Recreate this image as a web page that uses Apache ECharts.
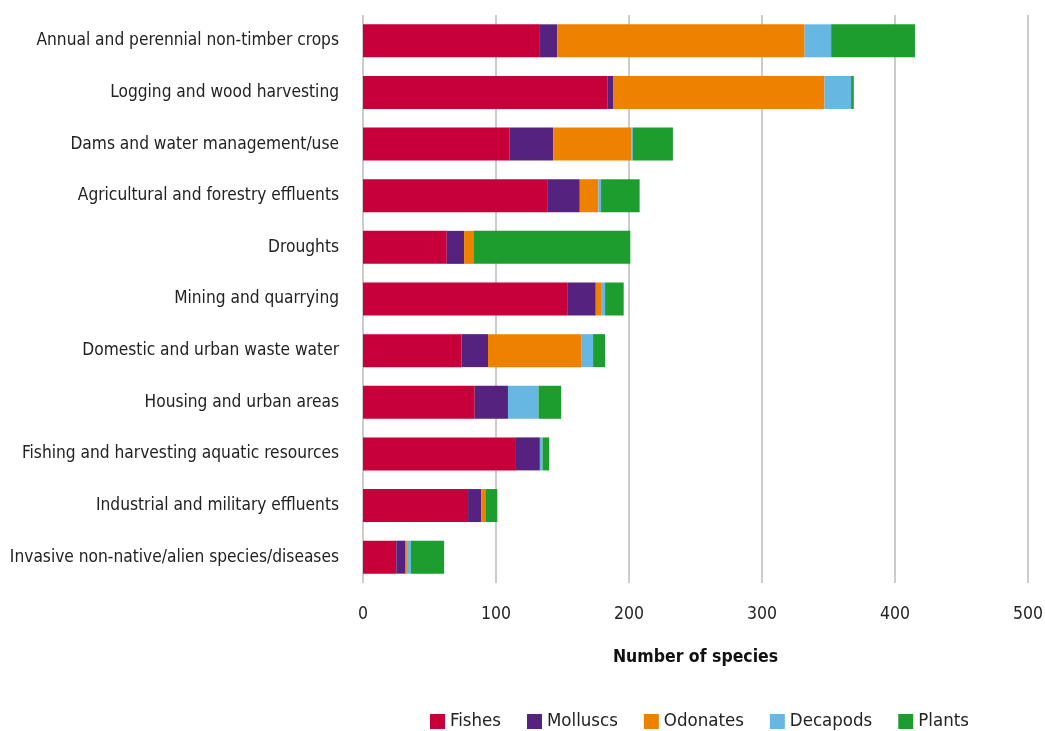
<!DOCTYPE html>
<html>
<head>
<meta charset="utf-8">
<script src="https://cdn.jsdelivr.net/npm/echarts@6/dist/echarts.min.js"></script>
<style>html,body{margin:0;padding:0;background:#fff;}#c{width:1045px;height:731px;}</style>
</head>
<body>
<div id="c"></div>
<script>
const categories = [
  'Annual and perennial non-timber crops',
  'Logging and wood harvesting',
  'Dams and water management/use',
  'Agricultural and forestry effluents',
  'Droughts',
  'Mining and quarrying',
  'Domestic and urban waste water',
  'Housing and urban areas',
  'Fishing and harvesting aquatic resources',
  'Industrial and military effluents',
  'Invasive non-native/alien species/diseases'
];
const fishes    = [133, 184, 110, 139, 63, 154, 74, 84, 115, 79, 25];
const molluscs  = [13, 4, 33, 24, 13, 21, 20, 25, 18, 10, 7];
const odonates  = [186, 159, 59, 14, 7, 4, 70, 0, 0, 3, 1];
const decapods  = [20, 20, 1, 2, 0, 3, 9, 23, 2, 0, 3];
const plants    = [63, 2, 30, 29, 118, 14, 9, 17, 5, 9, 25];
const xTicks = [0, 100, 200, 300, 400, 500];

const FONT = "'Liberation Sans Narrow', 'DejaVu Sans Condensed', sans-serif";
const seriesDefs = [
  ['Fishes', fishes, '#C8003A'],
  ['Molluscs', molluscs, '#55237F'],
  ['Odonates', odonates, '#EE8100'],
  ['Decapods', decapods, '#66B7E2'],
  ['Plants', plants, '#1C9D2E']
];
const chart = echarts.init(document.getElementById('c'), null, {renderer: 'canvas'});
chart.setOption({
  animation: false,
  textStyle: {fontFamily: FONT},
  grid: {left: 363, right: 17, top: 15, bottom: 148, containLabel: false, outerBoundsMode: 'none'},
  xAxis: {
    type: 'value', min: xTicks[0], max: xTicks[xTicks.length - 1], interval: 100,
    axisLine: {show: false}, axisTick: {show: false},
    splitLine: {show: true, lineStyle: {color: '#cccccc', width: 2}},
    axisLabel: {color: '#222', fontSize: 17.5, fontFamily: FONT, margin: 22},
    name: 'Number of species', nameLocation: 'middle', nameGap: 65,
    nameTextStyle: {color: '#111', fontSize: 17.5, fontWeight: 'bold', fontFamily: FONT}
  },
  yAxis: {
    type: 'category', data: categories, inverse: true,
    axisLine: {show: false}, axisTick: {show: false},
    axisLabel: {color: '#222', fontSize: 17.2, fontFamily: FONT, margin: 24, padding: [7, 0, 0, 0]}
  },
  legend: {
    left: 425, top: 707, itemWidth: 15, itemHeight: 15, itemGap: 26, itemTextGap: 5,
    icon: 'rect',
    textStyle: {color: '#222', fontSize: 18.5, fontFamily: FONT},
    data: seriesDefs.map(s => s[0])
  },
  series: seriesDefs.map(([name, data, color]) => ({
    name, type: 'bar', stack: 'total', data, barWidth: 33,
    itemStyle: {color}
  }))
});
</script>
</body>
</html>
